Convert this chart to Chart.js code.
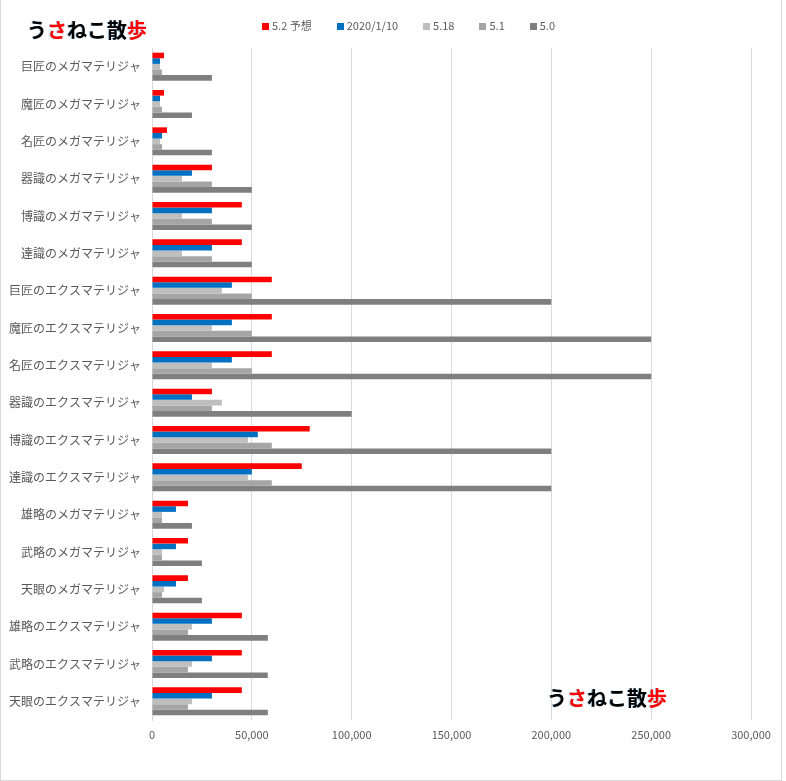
<!DOCTYPE html>
<html>
<head>
<meta charset="utf-8">
<script src="https://cdn.jsdelivr.net/npm/chart.js@4/dist/chart.umd.min.js"></script>
<style>
  html, body { margin: 0; padding: 0; background: #fff; }
  #wrap { position: relative; width: 786px; height: 781px; overflow: hidden; }
  #frame { position: absolute; left: 0; top: -1px; width: 780px; height: 780px; border: 1px solid #d9d9d9; }
  #chart { position: absolute; left: 0; top: 0; }
  .logo { position: absolute; font-family: "Noto Sans CJK JP", sans-serif; font-weight: bold; font-size: 20px;
          color: #000; white-space: nowrap; line-height: 24px; text-shadow: -1px 0 0 rgba(0,112,192,0.35); }
  .logo .r { color: #ff0000; }
  #legend { position: absolute; top: 17px; left: 262px; font-family: "Noto Sans CJK JP", sans-serif;
            font-size: 11px; color: #595959; white-space: nowrap; line-height: 16px; }
  #legend span.item { display: inline-block; margin-right: 25px; }
  #legend span.box { display: inline-block; width: 7px; height: 7px; margin-right: 3px; vertical-align: 0px; }
</style>
</head>
<body>
<div id="wrap">
  <canvas id="chart" width="786" height="781"></canvas>
  <div id="frame"></div>
  <div id="legend"></div>
  <div class="logo" style="left:27px; top:18px;">う<span class="r">さ</span>ねこ散<span class="r">歩</span></div>
  <div class="logo" style="left:547px; top:686px;">う<span class="r">さ</span>ねこ散<span class="r">歩</span></div>
</div>
<script>
const categories = [
  '巨匠のメガマテリジャ', '魔匠のメガマテリジャ', '名匠のメガマテリジャ',
  '器識のメガマテリジャ', '博識のメガマテリジャ', '達識のメガマテリジャ',
  '巨匠のエクスマテリジャ', '魔匠のエクスマテリジャ', '名匠のエクスマテリジャ',
  '器識のエクスマテリジャ', '博識のエクスマテリジャ', '達識のエクスマテリジャ',
  '雄略のメガマテリジャ', '武略のメガマテリジャ', '天眼のメガマテリジャ',
  '雄略のエクスマテリジャ', '武略のエクスマテリジャ', '天眼のエクスマテリジャ'
];

const seriesNames = ['5.2 予想', '2020/1/10', '5.18', '5.1', '5.0'];
const seriesColors = ['#ff0000', '#0070c0', '#bfbfbf', '#a5a5a5', '#7f7f7f'];

const v52   = [6000, 6000, 7500, 30000, 45000, 45000, 60000, 60000, 60000, 30000, 79000, 75000, 18000, 18000, 18000, 45000, 45000, 45000];
const v2020 = [4000, 4000, 5000, 20000, 30000, 30000, 40000, 40000, 40000, 20000, 53000, 50000, 12000, 12000, 12000, 30000, 30000, 30000];
const v518  = [4000, 4000, 4000, 15000, 15000, 15000, 35000, 30000, 30000, 35000, 48000, 48000, 5000, 5000, 6000, 20000, 20000, 20000];
const v51   = [5000, 5000, 5000, 30000, 30000, 30000, 50000, 50000, 50000, 30000, 60000, 60000, 5000, 5000, 5000, 18000, 18000, 18000];
const v50   = [30000, 20000, 30000, 50000, 50000, 50000, 200000, 250000, 250000, 100000, 200000, 200000, 20000, 25000, 25000, 58000, 58000, 58000];

const xTicks = [0, 50000, 100000, 150000, 200000, 250000, 300000];

const allValues = [v52, v2020, v518, v51, v50];

// legend as html, built from the series lists
const legendEl = document.getElementById('legend');
seriesNames.forEach((n, i) => {
  const item = document.createElement('span');
  item.className = 'item';
  item.innerHTML = '<span class="box" style="background:' + seriesColors[i] + '"></span>' + n;
  legendEl.appendChild(item);
});

const datasets = seriesNames.map((n, i) => ({
  label: n,
  data: allValues[i],
  backgroundColor: seriesColors[i],
  borderWidth: 0,
  categoryPercentage: 0.75,
  barPercentage: 1.0
}));

new Chart(document.getElementById('chart'), {
  type: 'bar',
  data: { labels: categories, datasets: datasets },
  options: {
    indexAxis: 'y',
    responsive: false,
    animation: false,
    layout: { padding: { top: 48, right: 35, left: 0, bottom: 0 } },
    plugins: {
      legend: { display: false },
      tooltip: { enabled: false }
    },
    scales: {
      x: {
        min: 0,
        max: 300000,
        afterBuildTicks: (axis) => { axis.ticks = xTicks.map(v => ({ value: v })); },
        afterFit: (axis) => { axis.height = 61; },
        grid: { color: '#d9d9d9', lineWidth: 1, drawTicks: false },
        border: { display: false },
        ticks: {
          padding: 8,
          color: '#595959',
          font: { family: 'Noto Sans CJK JP', size: 11 },
          callback: (v) => Number(v).toLocaleString('en-US')
        }
      },
      y: {
        afterFit: (axis) => { axis.width = 152; },
        grid: { display: false, drawTicks: false },
        border: { display: true, color: '#d9d9d9', width: 1 },
        ticks: {
          padding: 11,
          color: '#595959',
          font: { family: 'Noto Sans CJK JP', size: 12 }
        }
      }
    }
  }
});
</script>
</body>
</html>
